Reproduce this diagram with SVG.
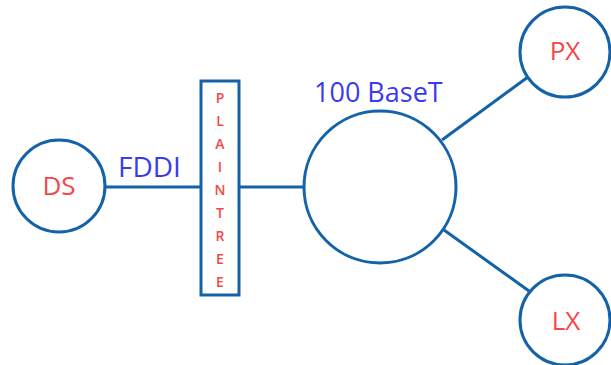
<svg xmlns="http://www.w3.org/2000/svg" width="611" height="365" viewBox="0 0 611 365">
<style>
.n{fill:#fff;stroke:#1462a8;stroke-width:3}
.c{stroke:#1462a8;stroke-width:3;fill:none}
.r{fill:#f44848;font-family:"Open Sans","Liberation Sans",sans-serif;text-anchor:middle}
.b{fill:#3a3af0;font-family:"Open Sans","Liberation Sans",sans-serif}
</style>
<rect width="611" height="365" fill="#fff"/>
<g id="connectors">
<line class="c" x1="105" y1="187" x2="201" y2="187"/>
<line class="c" x1="239" y1="187" x2="304" y2="187"/>
<line class="c" x1="442" y1="140" x2="528" y2="77"/>
<line class="c" x1="444" y1="230" x2="529" y2="291"/>
</g>
<g id="DS">
<circle class="n" cx="59" cy="186" r="46"/>
<text class="r" x="59" y="195" font-size="26">DS</text>
</g>
<g id="PLAINTREE">
<rect class="n" x="201" y="81" width="38" height="214"/>
<text class="r" font-size="14" font-weight="600">
<tspan x="220" y="103">P</tspan><tspan x="220" y="126">L</tspan><tspan x="220" y="149">A</tspan><tspan x="220" y="172">I</tspan><tspan x="220" y="195">N</tspan><tspan x="220" y="218">T</tspan><tspan x="220" y="241">R</tspan><tspan x="220" y="264">E</tspan><tspan x="220" y="287">E</tspan>
</text>
</g>
<g id="hub">
<circle class="n" cx="380" cy="187" r="76"/>
</g>
<g id="PX">
<circle class="n" cx="565" cy="52" r="45"/>
<text class="r" x="565" y="60" font-size="26">PX</text>
</g>
<g id="LX">
<circle class="n" cx="565" cy="320" r="45"/>
<text class="r" x="566" y="330" font-size="26">LX</text>
</g>
<text class="b" x="118" y="177" font-size="28">FDDI</text>
<text class="b" x="314" y="102" font-size="27">100 BaseT</text>
</svg>
